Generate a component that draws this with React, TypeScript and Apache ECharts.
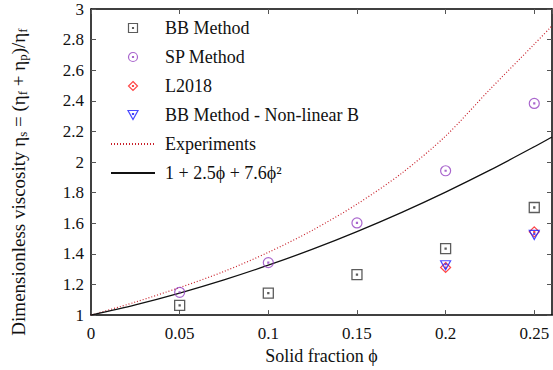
import React, { useEffect, useRef } from 'react';
import * as echarts from 'echarts';

// Solid fraction at which the simulations were run
const phiPoints = [0.05, 0.1, 0.15, 0.2, 0.25];
const bbMethod = [1.063, 1.144, 1.265, 1.434, 1.703];
const spMethod = [1.149, 1.343, 1.602, 1.943, 2.383];
const phiLate = [0.2, 0.25];
const l2018 = [1.311, 1.544];
const bbNonlinear = [1.326, 1.524];

// Curves
const curvePhi = [0, 0.025, 0.05, 0.075, 0.1, 0.125, 0.15, 0.175, 0.2, 0.225, 0.25, 0.26];
const experiments = [1, 1.085, 1.18, 1.285, 1.41, 1.555, 1.725, 1.925, 2.17, 2.475, 2.77, 2.89];
const fitCurve = [1, 1.067, 1.144, 1.23, 1.326, 1.431, 1.546, 1.67, 1.804, 1.947, 2.1, 2.164];

const legendNames = [
  'BB Method',
  'SP Method',
  'L2018',
  'BB Method - Non-linear B',
  'Experiments',
  '1 + 2.5ϕ + 7.6ϕ²',
];

const FONT = 'Liberation Serif';

const SQUARE = 'path://M0,0L10,0L10,10L0,10Z M4.5,4.5L5.5,4.5L5.5,5.5L4.5,5.5Z';
const CIRCLE = 'path://M10,5A5,5,0,1,1,0,5A5,5,0,1,1,10,5Z M4.5,4.5L5.5,4.5L5.5,5.5L4.5,5.5Z';
const DIAMOND = 'path://M5,0L10,5L5,10L0,5Z M4.5,4.5L5.5,4.5L5.5,5.5L4.5,5.5Z';
const TRIANGLE = 'path://M0,0L10,0L5,9Z M4.5,3L5.5,3L5.5,4L4.5,4Z';

const zip = (xs: number[], ys: number[]) => xs.map((x, i) => [x, ys[i]]);

export default function App() {
  const ref = useRef<HTMLDivElement>(null);
  useEffect(() => {
    if (!ref.current) return;
    const chart = echarts.init(ref.current, undefined, { renderer: 'svg' });
    const tickStyle = { show: true, inside: true, length: 5, lineStyle: { color: '#555', width: 1 } };
    const axisLine = { show: true, onZero: false, lineStyle: { color: '#000', width: 1.5 } };
    const hiddenSymbol = { color: 'transparent', borderColor: 'transparent', borderWidth: 0 };
    chart.setOption({
      animation: false,
      backgroundColor: '#fff',
      textStyle: { fontFamily: FONT },
      grid: { left: 91, right: 1, top: 9, bottom: 52, containLabel: false },
      xAxis: [
        {
          type: 'value', position: 'bottom', min: 0, max: 0.26, interval: 0.05,
          axisLine, axisTick: tickStyle, splitLine: { show: false },
          axisLabel: {
            show: true, showMaxLabel: false, margin: 10, fontFamily: FONT, fontSize: 17, color: '#111',
            formatter: (v: number) => String(+v.toFixed(2)),
          },
          name: 'Solid fraction ϕ', nameLocation: 'middle', nameGap: 26,
          nameTextStyle: { fontFamily: FONT, fontSize: 18, color: '#111' },
        },
        {
          type: 'value', position: 'top', min: 0, max: 0.26, interval: 0.05,
          axisLine, axisTick: tickStyle, splitLine: { show: false }, axisLabel: { show: false },
        },
      ],
      yAxis: [
        {
          type: 'value', position: 'left', min: 1, max: 3, interval: 0.2,
          axisLine, axisTick: tickStyle, splitLine: { show: false },
          axisLabel: {
            show: true, margin: 7, fontFamily: FONT, fontSize: 17, color: '#111',
            formatter: (v: number) => String(+v.toFixed(1)),
          },
        },
        {
          type: 'value', position: 'right', min: 1, max: 3, interval: 0.2,
          axisLine, axisTick: tickStyle, splitLine: { show: false }, axisLabel: { show: false },
        },
      ],
      legend: {
        orient: 'vertical', left: 110, top: 18, padding: 0, itemGap: 9,
        itemWidth: 44, itemHeight: 9, selectedMode: false,
        textStyle: { fontFamily: FONT, fontSize: 18, color: '#111', lineHeight: 20, padding: [0, 0, 0, 5] },
        itemStyle: { borderWidth: 1.2 },
        data: legendNames.map((name) => ({ name, textStyle: { fontFamily: FONT, fontSize: 18, color: '#111' } })),
      },
      graphic: [
        {
          type: 'text', x: 18, y: 182, rotation: Math.PI / 2,
          style: {
            text: 'Dimensionless viscosity η{s|s} = (η{s|f} + η{s|p})/η{s|f}',
            fontFamily: FONT, fontSize: 19, fill: '#111', lineHeight: 22,
            align: 'center', verticalAlign: 'middle',
            rich: { s: { fontFamily: FONT, fontSize: 13, fill: '#111', verticalAlign: 'bottom', lineHeight: 12 } },
          },
        },
      ],
      series: [
        {
          name: legendNames[4], type: 'line', data: zip(curvePhi, experiments), symbol: 'none', smooth: 0.3,
          itemStyle: hiddenSymbol,
          lineStyle: { color: '#c8202a', width: 1.2, type: [1, 2] }, z: 2,
        },
        {
          name: legendNames[5], type: 'line', data: zip(curvePhi, fitCurve), symbol: 'none', smooth: 0.3,
          itemStyle: hiddenSymbol,
          lineStyle: { color: '#111', width: 1.3 }, z: 2,
        },
        {
          name: legendNames[0], type: 'scatter', data: zip(phiPoints, bbMethod), symbol: SQUARE, symbolSize: 10,
          itemStyle: { color: 'transparent', borderColor: '#333', borderWidth: 1.3 }, z: 3,
        },
        {
          name: legendNames[1], type: 'scatter', data: zip(phiPoints, spMethod), symbol: CIRCLE, symbolSize: 10,
          itemStyle: { color: 'transparent', borderColor: '#9440c0', borderWidth: 1.2 }, z: 3,
        },
        {
          name: legendNames[2], type: 'scatter', data: zip(phiLate, l2018), symbol: DIAMOND, symbolSize: 10,
          itemStyle: { color: 'transparent', borderColor: '#ff1a1a', borderWidth: 1.2 }, z: 3,
        },
        {
          name: legendNames[3], type: 'scatter', data: zip(phiLate, bbNonlinear), symbol: TRIANGLE, symbolSize: [10, 9],
          itemStyle: { color: 'transparent', borderColor: '#1a1aff', borderWidth: 1.2 }, z: 4,
        },
      ],
    });
    return () => chart.dispose();
  }, []);
  return (
    <div
      ref={ref}
      style={{ position: 'fixed', left: 0, top: 0, width: 553, height: 370, background: '#fff' }}
    />
  );
}
